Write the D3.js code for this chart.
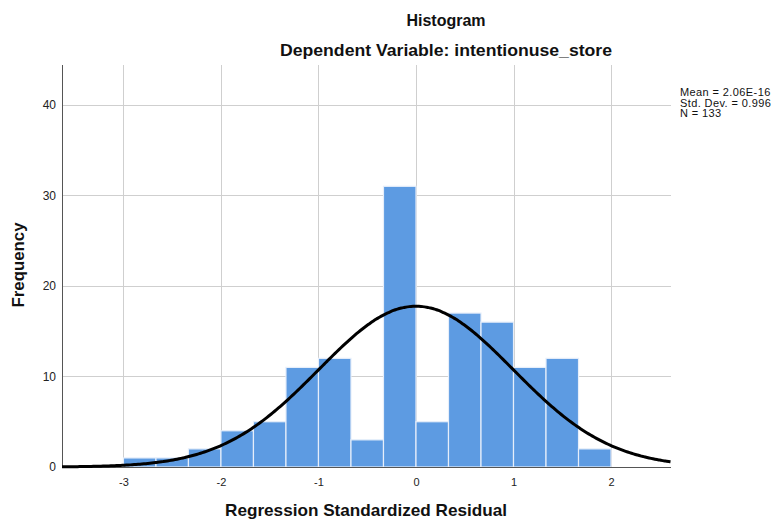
<!DOCTYPE html>
<html>
<head>
<meta charset="utf-8">
<script src="https://cdn.jsdelivr.net/npm/d3@7"></script>
<style>
  html, body { margin: 0; padding: 0; background: #fff; }
  svg { display: block; }
  text { font-family: "Liberation Sans", Arial, sans-serif; }
</style>
</head>
<body>
<svg id="chart" width="780" height="523"></svg>
<script>
// Histogram bins of the standardized residuals (bin width 1/3)
const binStarts = [-3, -8/3, -7/3, -2, -5/3, -4/3, -1, -2/3, -1/3, 0, 1/3, 2/3, 1, 4/3, 5/3];
const binCounts = [1, 1, 2, 4, 5, 11, 12, 3, 31, 5, 17, 16, 11, 12, 2];
const binWidth = 1/3;

const xTicks = [-3, -2, -1, 0, 1, 2];
const yTicks = [0, 10, 20, 30, 40];

const stats = { mean: 2.06e-16, sd: 0.996, n: 133 };
const statLabels = ["Mean = 2.06E-16", "Std. Dev. = 0.996", "N = 133"];

const svg = d3.select("#chart");
const plotL = 62, plotR = 671, plotT = 65, plotB = 467;

const x = d3.scaleLinear().domain([-3.63, 2.615]).range([plotL, plotR]);
const y = d3.scaleLinear().domain([0, 44.4]).range([plotB, plotT]);

// grid lines
const grid = svg.append("g").attr("stroke", "#cfcfcf").attr("stroke-width", 1);
grid.selectAll("line.v").data(xTicks).join("line")
  .attr("x1", d => Math.round(x(d)) + 0.5).attr("x2", d => Math.round(x(d)) + 0.5)
  .attr("y1", plotT).attr("y2", plotB);
grid.selectAll("line.h").data(yTicks.filter(d => d > 0)).join("line")
  .attr("x1", plotL).attr("x2", plotR)
  .attr("y1", d => Math.round(y(d)) + 0.5).attr("y2", d => Math.round(y(d)) + 0.5);

// bars
svg.append("g").selectAll("rect").data(binStarts.map((s, i) => ({ s, c: binCounts[i] }))).join("rect")
  .attr("x", d => x(d.s))
  .attr("width", d => x(d.s + binWidth) - x(d.s))
  .attr("y", d => y(d.c))
  .attr("height", d => y(0) - y(d.c))
  .attr("fill", "#5d9be2")
  .attr("stroke", "#e6eefa")
  .attr("stroke-width", 1.2);

// axes
const xAxis = d3.axisBottom(x).tickValues(xTicks).tickSize(0).tickPadding(11)
  .tickFormat(d => d < 0 ? "-" + Math.abs(d) : String(d));
const gx = svg.append("g").attr("transform", `translate(0,${plotB})`).call(xAxis);
gx.select(".domain").attr("stroke", "#555").attr("d", `M${plotL},0.5H${plotR}`);
gx.selectAll("text").attr("font-size", 11).attr("fill", "#222");

const yAxis = d3.axisLeft(y).tickValues(yTicks).tickSize(0).tickPadding(6);
const gy = svg.append("g").attr("transform", `translate(${plotL},0)`).call(yAxis);
gy.select(".domain").attr("stroke", "#555").attr("d", `M0.5,${plotT}V${plotB}`);
gy.selectAll("text").attr("font-size", 12).attr("fill", "#222");

// normal curve scaled to counts
const scaleK = stats.n * binWidth;
const pts = d3.range(-3.63, 2.62, 0.02).map(v => [v, scaleK * Math.exp(-0.5 * ((v - stats.mean) / stats.sd) ** 2) / (stats.sd * Math.sqrt(2 * Math.PI))]);
svg.append("path").datum(pts)
  .attr("d", d3.line().x(d => x(d[0])).y(d => y(d[1])).curve(d3.curveBasis))
  .attr("fill", "none").attr("stroke", "#000").attr("stroke-width", 3);

// titles
svg.append("text").attr("x", 446).attr("y", 26).attr("text-anchor", "middle")
  .attr("font-size", 16).attr("font-weight", "bold").attr("fill", "#111").text("Histogram");
svg.append("text").attr("x", 446).attr("y", 56).attr("text-anchor", "middle")
  .attr("font-size", 16).attr("font-weight", "bold").attr("fill", "#111")
  .attr("textLength", 332).attr("lengthAdjust", "spacingAndGlyphs")
  .text("Dependent Variable: intentionuse_store");
svg.append("text").attr("x", 366).attr("y", 516).attr("text-anchor", "middle")
  .attr("font-size", 17).attr("font-weight", "bold").attr("fill", "#111")
  .attr("textLength", 282).attr("lengthAdjust", "spacingAndGlyphs")
  .text("Regression Standardized Residual");
svg.append("text").attr("transform", "translate(24,265) rotate(-90)").attr("text-anchor", "middle")
  .attr("font-size", 17).attr("font-weight", "bold").attr("fill", "#111")
  .attr("textLength", 85).attr("lengthAdjust", "spacingAndGlyphs")
  .text("Frequency");

// summary statistics
svg.append("g").selectAll("text").data(statLabels).join("text")
  .attr("x", 680).attr("y", (d, i) => 96 + i * 10.5)
  .attr("font-size", 11).attr("letter-spacing", 0.4).attr("fill", "#111").text(d => d);
</script>
</body>
</html>
